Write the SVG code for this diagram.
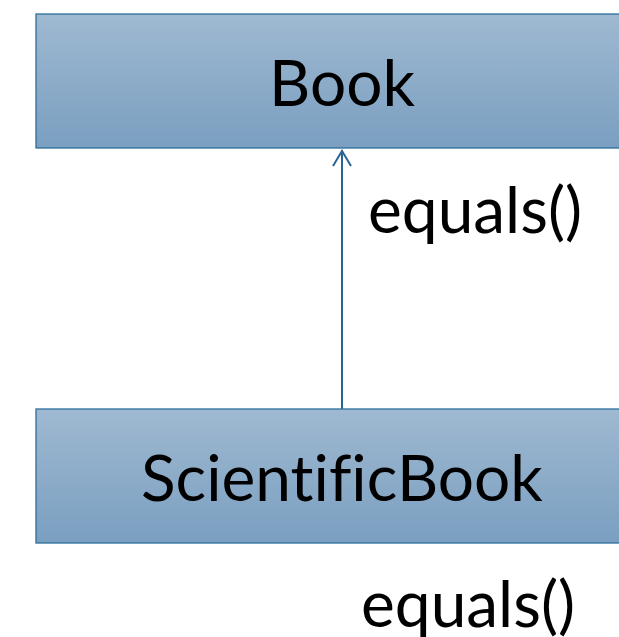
<svg xmlns="http://www.w3.org/2000/svg" width="619" height="637" viewBox="0 0 619 637">
<style>
.box{fill:url(#g);stroke:#2d6e9b;stroke-width:1.3}
.t{font-family:Lato,"Liberation Sans",sans-serif;fill:#000;font-size:64px;font-variant-ligatures:none}
.conn{stroke:#2a6592;stroke-width:2;fill:none}
</style>
<defs>
<linearGradient id="g" x1="0" y1="0" x2="0" y2="1">
<stop offset="0" stop-color="#9fb9d1"/>
<stop offset="1" stop-color="#7a9fc0"/>
</linearGradient>
</defs>
<g id="connectors">
<line class="conn" x1="342" y1="409" x2="342" y2="150"/>
<path class="conn" d="M333,166 L342,151 L351,166"/>
</g>
<g id="book">
<rect class="box" x="36" y="14" width="600" height="134"/>
<text class="t" x="342" y="106" text-anchor="middle">Book</text>
</g>
<g id="scientificbook">
<rect class="box" x="36" y="409" width="600" height="134"/>
<text class="t" x="342" y="501" text-anchor="middle">ScientificBook</text>
</g>
<text class="t" x="368" y="233">equals()</text>
<text class="t" x="361" y="627">equals()</text>
</svg>
